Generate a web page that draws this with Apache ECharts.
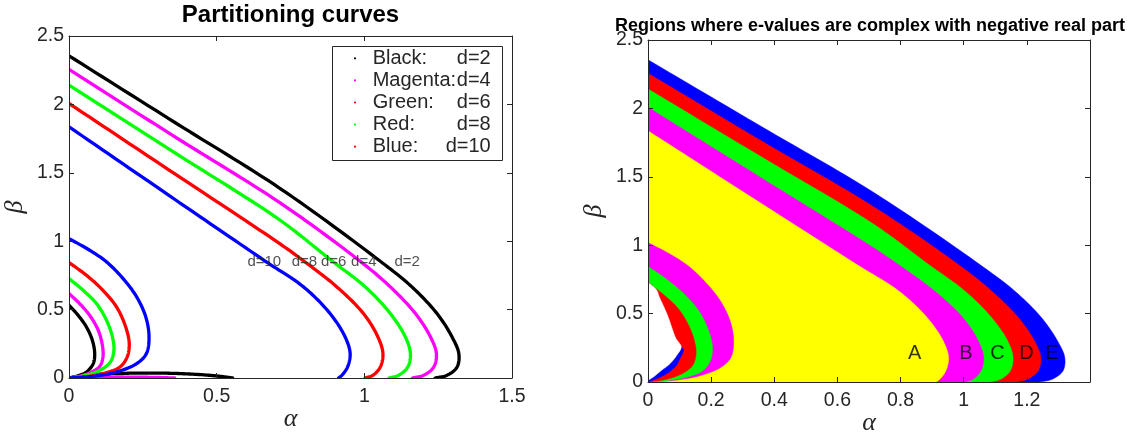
<!DOCTYPE html>
<html><head><meta charset="utf-8">
<script src="https://cdn.jsdelivr.net/npm/echarts@6/dist/echarts.min.js"></script>
<style>html,body{margin:0;padding:0;background:#fff}#c{width:1143px;height:434px}</style>
</head><body><div id="c"></div>
<script>
// ---------- data (alpha, beta) ----------
const bigD2  = [[0,2.355],[0.36,1.866],[0.715,1.385],[1.053,0.855],[1.161,0.666],[1.246,0.471],[1.297,0.300],[1.320,0.178],[1.314,0.080],[1.280,0.020],[1.240,0]];
const bigD4  = [[0,2.256],[0.36,1.761],[0.715,1.280],[0.985,0.855],[1.088,0.666],[1.173,0.471],[1.224,0.300],[1.244,0.178],[1.235,0.080],[1.201,0.020],[1.163,0]];
const bigD6  = [[0,2.141],[0.36,1.644],[0.715,1.153],[0.891,0.855],[1.003,0.666],[1.088,0.471],[1.139,0.300],[1.156,0.178],[1.147,0.080],[1.116,0.020],[1.084,0]];
const bigD8  = [[0,2.007],[0.36,1.490],[0.715,0.980],[0.795,0.855],[0.907,0.666],[0.997,0.471],[1.046,0.300],[1.063,0.178],[1.054,0.080],[1.029,0.020],[1.003,0]];
const bigD10 = [[0,1.836],[0.36,1.303],[0.664,0.855],[0.794,0.666],[0.884,0.471],[0.935,0.300],[0.952,0.178],[0.943,0.080],[0.924,0.020],[0.913,0]];

const smallD2  = [[0,0.532],[0.031,0.458],[0.059,0.373],[0.079,0.276],[0.087,0.178],[0.082,0.105],[0.059,0.044],[0.025,0.012],[0,0]];
const smallD4  = [[0,0.617],[0.036,0.544],[0.070,0.458],[0.099,0.349],[0.113,0.239],[0.115,0.154],[0.104,0.085],[0.070,0.037],[0.025,0.007],[0,0]];
const smallD6  = [[0,0.727],[0.048,0.641],[0.093,0.544],[0.127,0.422],[0.147,0.300],[0.152,0.202],[0.140,0.117],[0.104,0.056],[0.048,0.015],[0,0]];
const smallD8  = [[0,0.844],[0.059,0.751],[0.115,0.641],[0.161,0.519],[0.192,0.373],[0.204,0.251],[0.197,0.154],[0.172,0.080],[0.115,0.032],[0.048,0.007],[0,0]];
const smallD10 = [[0,1.019],[0.070,0.934],[0.127,0.849],[0.183,0.727],[0.229,0.593],[0.260,0.446],[0.271,0.300],[0.262,0.178],[0.229,0.105],[0.161,0.044],[0.082,0.012],[0,0]];

const tailD2 = [[0,0],[0.06,0.022],[0.15,0.032],[0.25,0.036],[0.35,0.034],[0.45,0.024],[0.52,0.010],[0.554,0]];
const tailD4 = [[0,0],[0.10,0.006],[0.20,0.007],[0.30,0.004],[0.358,0]];

// inner pieces of the right panel
const innerBlue  = [[0.107,0.256],[0.112,0.232],[0.101,0.171],[0.086,0.110],[0.059,0.061],[0.028,0.025],[0,0]];
const innerWhite = [[0,0.727],[0.027,0.673],[0.036,0.620],[0.050,0.550],[0.063,0.480],[0.075,0.400],[0.088,0.320],[0.105,0.256],[0.091,0.195],[0.070,0.135],[0.043,0.086],[0.017,0.037],[0,0.012]];

const curveColors = ['#000000','#ff00ff','#00ff00','#ff0000','#0000ff'];
const regionColors = ['#0000ff','#ff0000','#00ff00','#ff00ff','#ffff00'];

const curveLabelText  = ['d=10','d=8','d=6','d=4','d=2'];
const curveLabelAlpha = [0.604,0.754,0.853,0.955,1.102];
const curveLabelBeta  = 0.849;

const regionLetters = ['A','B','C','D','E'];
const regionLetterAlpha = [0.845,1.007,1.107,1.199,1.279];
const regionLetterBeta = 0.205;

const legendNames = ['Black:','Magenta:','Green:','Red:','Blue:'];
const legendDs = ['d=2','d=4','d=6','d=8','d=10'];
const legendDotColors = ['#000000','#ff00ff','#ff0000','#00ff00','#ff0000'];

const leftXTicks = {min:0, max:1.5, interval:0.5};
const rightXTicks = {min:0, max:1.4, interval:0.2};
const yTicks = {min:0, max:2.5, interval:0.5};

const titleLeft = 'Partitioning curves';
const titleRight = 'Regions where e-values are complex with negative real part';

// ---------- rendering helpers ----------
const FONT = '"Liberation Sans", Arial, Helvetica, sans-serif';
const SERIF = '"Liberation Serif", "DejaVu Serif", serif';
const AX = '#262626';

function crSeg(p0,p1,p2,p3,n,out){
  const d=(p,q)=>Math.pow(Math.hypot(q[0]-p[0],q[1]-p[1])||1e-6,0.5);
  const t0=0,t1=t0+d(p0,p1),t2=t1+d(p1,p2),t3=t2+d(p2,p3);
  for(let s=0;s<n;s++){
    const t=t1+(t2-t1)*s/n;
    const L=(P,Q,a,b)=>[(b-t)/(b-a)*P[0]+(t-a)/(b-a)*Q[0],(b-t)/(b-a)*P[1]+(t-a)/(b-a)*Q[1]];
    const A1=L(p0,p1,t0,t1),A2=L(p1,p2,t1,t2),A3=L(p2,p3,t2,t3);
    const B1=L(A1,A2,t0,t2),B2=L(A2,A3,t1,t3);
    out.push(L(B1,B2,t1,t2));
  }
}
function smoothPx(px){
  if(px.length<3) return px.slice();
  const out=[]; const n=px.length;
  for(let i=0;i<n-1;i++){
    const p0=i>0?px[i-1]:[2*px[0][0]-px[1][0],2*px[0][1]-px[1][1]];
    const p3=i+2<n?px[i+2]:[2*px[n-1][0]-px[n-2][0],2*px[n-1][1]-px[n-2][1]];
    crSeg(p0,px[i],px[i+1],p3,16,out);
  }
  out.push(px[n-1]);
  return out;
}

function lineSeries(pts,color){
  return {type:'custom',coordinateSystem:'cartesian2d',xAxisIndex:0,yAxisIndex:0,clip:true,silent:true,z:2,
    data:[[0,0]],
    renderItem:(params,api)=>({type:'polyline',shape:{points:smoothPx(pts.map(p=>api.coord(p)))},
      style:{stroke:color,lineWidth:3.3,fill:null,lineJoin:'round',lineCap:'round'}})};
}
function fillSeries(pts,closure,color){
  return {type:'custom',coordinateSystem:'cartesian2d',xAxisIndex:2,yAxisIndex:2,clip:true,silent:true,z:2,
    data:[[0,0]],
    renderItem:(params,api)=>{
      const px=smoothPx(pts.map(p=>api.coord(p))).concat(closure.map(p=>api.coord(p)));
      return {type:'polygon',shape:{points:px},style:{fill:color,stroke:color,lineWidth:0.6}};
    }};
}

function xAxes(gi,t,labelFmt){
  const common={gridIndex:gi,type:'value',min:t.min,max:t.max,interval:t.interval,z:10,
    axisLine:{show:true,onZero:false,lineStyle:{color:AX,width:1}},
    axisTick:{show:true,inside:true,length:5,lineStyle:{color:AX,width:1}},
    splitLine:{show:false}};
  return [
    Object.assign({},common,{position:'bottom',
      axisLabel:{show:true,color:AX,fontSize:19.5,fontFamily:FONT,margin:9,formatter:labelFmt},
      name:'α',nameLocation:'middle',nameGap:41,nameMoveOverlap:false,
      nameTextStyle:{fontFamily:SERIF,fontStyle:'italic',fontSize:26,color:AX,verticalAlign:'middle'}}),
    Object.assign({},common,{position:'top',axisLabel:{show:false}})
  ];
}
function yAxes(gi){
  const common={gridIndex:gi,type:'value',min:yTicks.min,max:yTicks.max,interval:yTicks.interval,z:10,
    axisLine:{show:true,onZero:false,lineStyle:{color:AX,width:1}},
    axisTick:{show:true,inside:true,length:5,lineStyle:{color:AX,width:1}},
    splitLine:{show:false}};
  return [
    Object.assign({},common,{position:'left',
      axisLabel:{show:true,color:AX,fontSize:19.5,fontFamily:FONT,margin:5},
      name:'β',nameLocation:'middle',nameGap:54,nameMoveOverlap:false,
      nameTextStyle:{fontFamily:SERIF,fontStyle:'italic',fontSize:26,color:AX,verticalAlign:'middle'}}),
    Object.assign({},common,{position:'right',axisLabel:{show:false}})
  ];
}

const fmt1 = v => (v > rightXTicks.max - 0.01) ? '' : String(Math.round(v*10)/10);

const series = [];
const bigs=[bigD2,bigD4,bigD6,bigD8,bigD10];
const smalls=[smallD2,smallD4,smallD6,smallD8,smallD10];
series.push(lineSeries(tailD2,curveColors[0]));
series.push(lineSeries(tailD4,curveColors[1]));
bigs.forEach((c,i)=>series.push(lineSeries(c,curveColors[i])));
smalls.forEach((c,i)=>series.push(lineSeries(c,curveColors[i])));
series.push({type:'scatter',xAxisIndex:0,yAxisIndex:0,symbolSize:0,silent:true,z:5,
  itemStyle:{color:'rgba(0,0,0,0)'},
  data:curveLabelText.map((t,i)=>[curveLabelAlpha[i],curveLabelBeta,t]),
  label:{show:true,position:'right',distance:0,formatter:p=>p.data[2],color:AX,fontSize:15,fontFamily:FONT}});

bigs.forEach((c,i)=>series.push(fillSeries(c,[[0,0]],regionColors[i])));
series.push(fillSeries(smallD10,[],regionColors[3]));
series.push(fillSeries(smallD8,[],regionColors[2]));
series.push(fillSeries(smallD6,[],regionColors[1]));
series.push(fillSeries(innerBlue,[[0,0.25]],regionColors[0]));
series.push(fillSeries(innerWhite,[],'#ffffff'));
series.push({type:'scatter',xAxisIndex:2,yAxisIndex:2,symbolSize:0,silent:true,z:5,
  itemStyle:{color:'rgba(0,0,0,0)'},
  data:regionLetters.map((t,i)=>[regionLetterAlpha[i],regionLetterBeta,t]),
  label:{show:true,position:'inside',formatter:p=>p.data[2],color:'#000',fontSize:20,fontFamily:FONT}});

const legendEls=[{type:'rect',shape:{x:332.5,y:46.5,width:170,height:114},style:{fill:'#fff',stroke:AX,lineWidth:1},z:20}];
legendNames.forEach((nm,i)=>{
  const y=58.3+i*22.1;
  legendEls.push({type:'circle',shape:{cx:355,cy:y,r:1.1},style:{fill:legendDotColors[i]},z:21});
  legendEls.push({type:'text',x:372.7,y:y,style:{text:nm,fill:AX,font:'20px '+FONT,align:'left',verticalAlign:'middle',textAlign:'left',textVerticalAlign:'middle'},z:21});
  legendEls.push({type:'text',x:490.7,y:y,style:{text:legendDs[i],fill:AX,font:'20px '+FONT,align:'right',verticalAlign:'middle',textAlign:'right',textVerticalAlign:'middle'},z:21});
});
legendEls.push({type:'text',x:290.5,y:15.7,style:{text:titleLeft,fill:'#000',font:'bold 24px '+FONT,align:'center',verticalAlign:'middle',textAlign:'center',textVerticalAlign:'middle'},z:21});
legendEls.push({type:'text',x:870,y:26,style:{text:titleRight,fill:'#000',font:'bold 18px '+FONT,align:'center',verticalAlign:'middle',textAlign:'center',textVerticalAlign:'middle'},z:21});

const chart=echarts.init(document.getElementById('c'),null,{renderer:'canvas',width:1143,height:434});
chart.setOption({
  animation:false,
  backgroundColor:'#ffffff',
  grid:[{left:69,top:36,width:443,height:342,containLabel:false,outerBoundsMode:'none'},
        {left:648,top:40,width:442,height:342,containLabel:false,outerBoundsMode:'none'}],
  xAxis:[...xAxes(0,leftXTicks,undefined),...xAxes(1,rightXTicks,fmt1)],
  yAxis:[...yAxes(0),...yAxes(1)],
  series:series,
  graphic:{elements:legendEls}
});
</script></body></html>
